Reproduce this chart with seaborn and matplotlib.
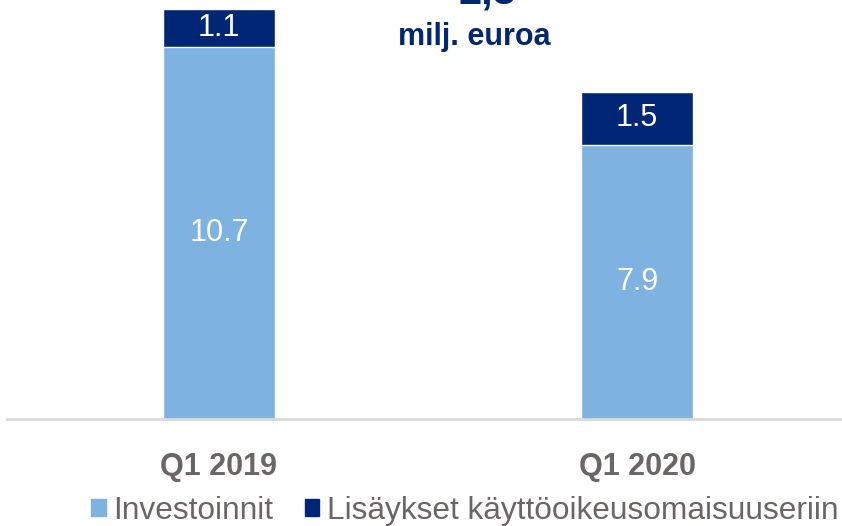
import pandas as pd
import seaborn as sns
import matplotlib.pyplot as plt
from matplotlib.patches import Patch

# values
quarters = ["Q1 2019", "Q1 2020"]
investoinnit = [10.7, 7.9]
lisaykset = [1.1, 1.5]
series_names = ["Investoinnit", "Lisäykset käyttöoikeusomaisuuseriin"]
headline = "2,3"
unit_text = "milj. euroa"

light_blue = "#7DB2E1"
navy = "#002776"
grey_text = "#6B6666"

sns.set_theme(style="white")
plt.rcParams["font.family"] = ["Liberation Sans", "DejaVu Sans"]

df = pd.DataFrame({"quarter": quarters, "inv": investoinnit, "lis": lisaykset})
df["total"] = df["inv"] + df["lis"]

fig = plt.figure(figsize=(8.42, 5.26), dpi=100)
ax = fig.add_axes([7 / 842, 1 - 419 / 526, 1 - 7 / 842, 419 / 526])

# stacked bars: draw the total first, then the lower part over it
sns.barplot(data=df, x="quarter", y="total", color=navy, width=0.268,
            saturation=1, ax=ax)
sns.barplot(data=df, x="quarter", y="inv", color=light_blue, width=0.268,
            saturation=1, ax=ax)

for i, row in df.iterrows():
    ax.text(i, row["inv"] / 2, f"{row['inv']:.1f}", ha="center", va="center",
            color="white", fontsize=22)
    ax.text(i, row["inv"] + row["lis"] / 2, f"{row['lis']:.1f}", ha="center",
            va="center", color="white", fontsize=22)

ax.set_xlim(-0.507, 1.49)
ax.set_ylim(0, 12.06)
ax.set_xlabel("")
ax.set_ylabel("")
ax.set_yticks([])
for side in ["top", "right", "left"]:
    ax.spines[side].set_visible(False)
ax.spines["bottom"].set_color("#D9D9D9")
ax.spines["bottom"].set_linewidth(2)
ax.tick_params(axis="x", length=0, pad=24)
for lbl in ax.get_xticklabels():
    lbl.set_fontsize(22)
    lbl.set_fontweight("bold")
    lbl.set_color(grey_text)

# headline number is partly outside the top edge, as in the original slide
fig.text(487 / 842, 1 - 4 / 526, headline, ha="center", va="baseline",
         fontsize=30, fontweight="bold", color=navy)
fig.text(474 / 842, 1 - 45 / 526, unit_text, ha="center", va="baseline",
         fontsize=22, fontweight="bold", color=navy)

handles = [Patch(color=light_blue), Patch(color=navy)]
leg = fig.legend(handles, series_names, loc="center", ncol=2,
                 bbox_to_anchor=(465 / 842, 1 - 511 / 526), frameon=False,
                 fontsize=22.8, handlelength=0.45, handleheight=0.45,
                 handletextpad=0.25, columnspacing=1.0)
for t in leg.get_texts():
    t.set_color(grey_text)

fig.savefig("out.png", dpi=100)
